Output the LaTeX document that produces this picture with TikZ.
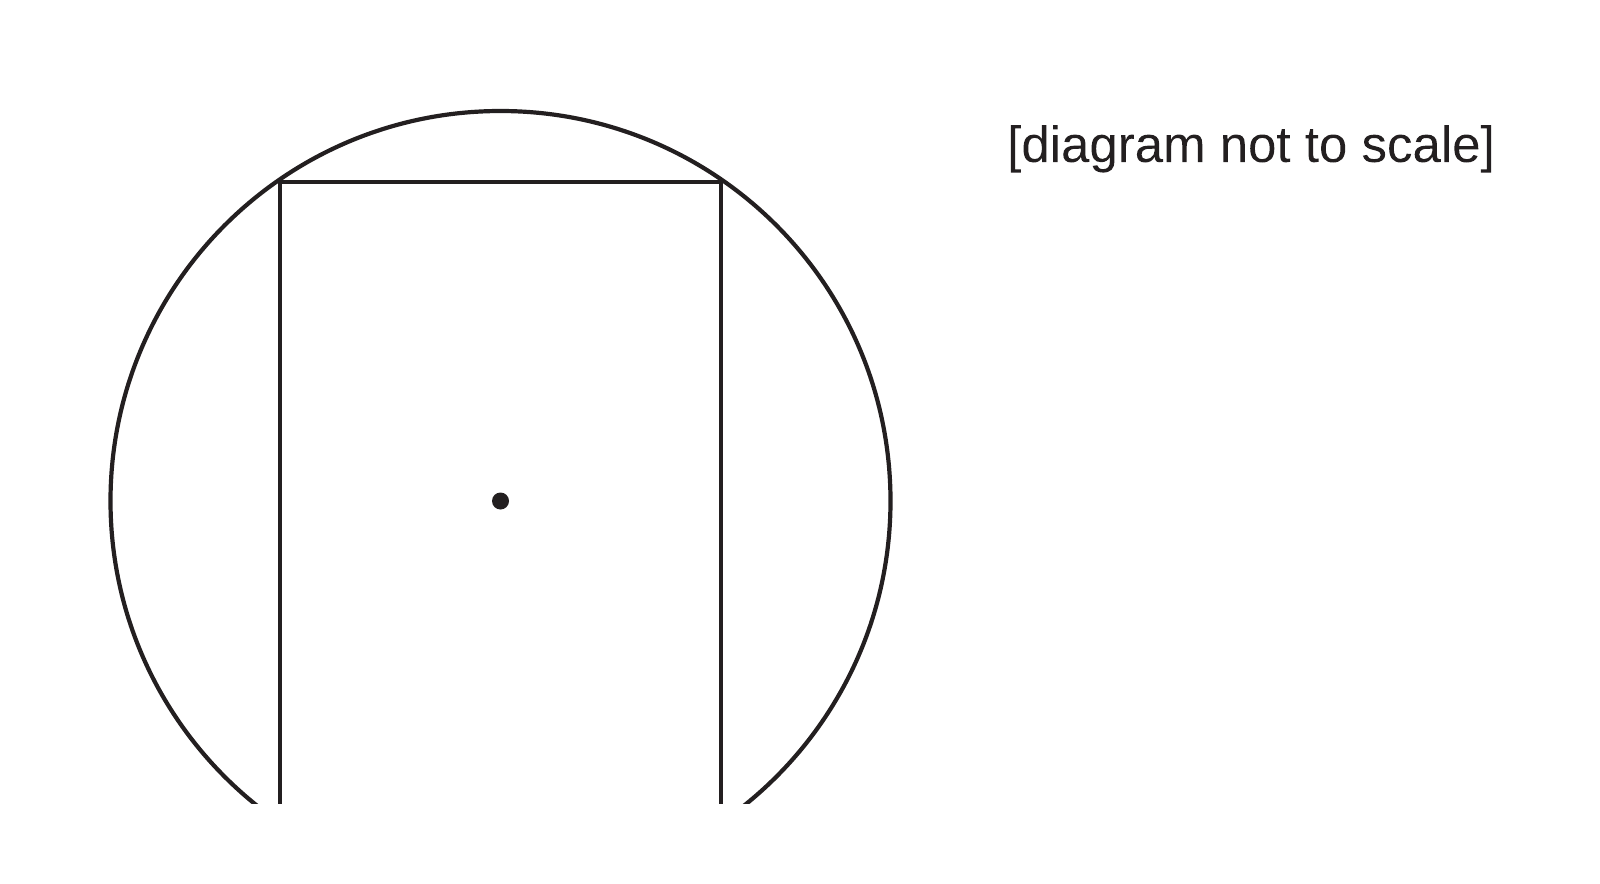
\documentclass[tikz,border=0pt]{standalone}
\usepackage{fontspec}
\setmainfont{Liberation Sans}
\definecolor{ink}{RGB}{35,31,32}
\begin{document}
\begin{tikzpicture}[x=1pt,y=-1pt,
  geom/.style={line width=4.2pt,draw=ink},
  lbl/.style={inner sep=0pt,anchor=base,font=\fontsize{51}{60}\selectfont,text=ink}]
\useasboundingbox (0,0) rectangle (1600,883);
\coordinate (O) at (500.5,501);
\begin{scope}
  \clip (0,0) rectangle (1600,803);
  \draw[geom] (O) circle[radius=390pt];
  \draw[geom] (280,810) -- (280,182) -- (721,182) -- (721,810);
\end{scope}
\fill[ink] (O) circle[radius=8.5pt];
\node[lbl,draw=ink,line width=0.6pt,inner sep=0pt,draw opacity=0] (t) at (1251,162) {\addfontfeature{FakeBold=0.6}[diagram not to scale]};
\end{tikzpicture}
\end{document}
